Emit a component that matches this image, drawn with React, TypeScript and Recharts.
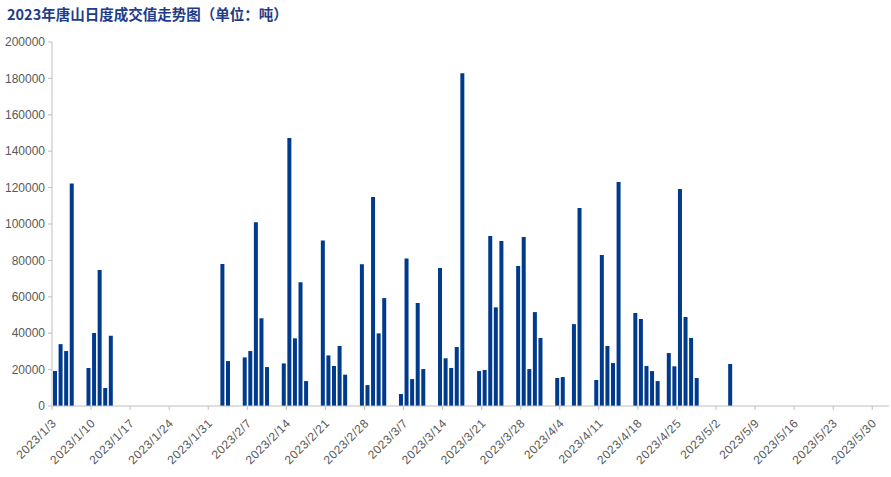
import React from "react";
import { BarChart, Bar, XAxis, YAxis } from "recharts";

const tradeDates = [
  "2023/1/3", "2023/1/4", "2023/1/5", "2023/1/6", "2023/1/9", "2023/1/10", "2023/1/11", "2023/1/12", "2023/1/13",
  "2023/2/2", "2023/2/3", "2023/2/6", "2023/2/7", "2023/2/8", "2023/2/9", "2023/2/10",
  "2023/2/13", "2023/2/14", "2023/2/15", "2023/2/16", "2023/2/17",
  "2023/2/20", "2023/2/21", "2023/2/22", "2023/2/23", "2023/2/24",
  "2023/2/27", "2023/2/28", "2023/3/1", "2023/3/2", "2023/3/3",
  "2023/3/6", "2023/3/7", "2023/3/8", "2023/3/9", "2023/3/10",
  "2023/3/13", "2023/3/14", "2023/3/15", "2023/3/16", "2023/3/17",
  "2023/3/20", "2023/3/21", "2023/3/22", "2023/3/23", "2023/3/24",
  "2023/3/27", "2023/3/28", "2023/3/29", "2023/3/30", "2023/3/31",
  "2023/4/3", "2023/4/4", "2023/4/6", "2023/4/7",
  "2023/4/10", "2023/4/11", "2023/4/12", "2023/4/13", "2023/4/14",
  "2023/4/17", "2023/4/18", "2023/4/19", "2023/4/20", "2023/4/21",
  "2023/4/23", "2023/4/24", "2023/4/25", "2023/4/26", "2023/4/27", "2023/4/28",
  "2023/5/4",
];

// 成交量（吨）
const volumes = [
  19200, 34000, 30200, 122300, 20900, 40100, 74700, 9900, 38600,
  78000, 24700, 26700, 30200, 100900, 48200, 21400,
  23400, 147200, 37200, 68000, 13700,
  91000, 27800, 22000, 33000, 17200,
  77900, 11500, 114900, 39900, 59300,
  6600, 81100, 14800, 56600, 20300,
  75800, 26200, 20900, 32400, 182800,
  19200, 19800, 93400, 54200, 90700,
  76900, 92900, 20300, 51600, 37400,
  15400, 15900, 45000, 108800,
  14300, 83000, 33000, 23600, 123100,
  51100, 47800, 22000, 19200, 13700,
  29100, 21800, 119200, 48900, 37400, 15400,
  23100,
];

const tickLabels = [
  "2023/1/3", "2023/1/10", "2023/1/17", "2023/1/24", "2023/1/31", "2023/2/7", "2023/2/14",
  "2023/2/21", "2023/2/28", "2023/3/7", "2023/3/14", "2023/3/21", "2023/3/28", "2023/4/4",
  "2023/4/11", "2023/4/18", "2023/4/25", "2023/5/2", "2023/5/9", "2023/5/16", "2023/5/23", "2023/5/30",
];

const yTicks = [0, 20000, 40000, 60000, 80000, 100000, 120000, 140000, 160000, 180000, 200000];

const START = Date.UTC(2023, 0, 3);
const dayOffset = (s: string) => {
  const [y, m, d] = s.split("/").map(Number);
  return Math.round((Date.UTC(y, m - 1, d) - START) / 86400000);
};

const data = tradeDates.map((d, i) => ({ day: dayOffset(d) + 0.5, date: d, value: volumes[i] }));
const xTicks = tickLabels.map(dayOffset);
const labelByDay: Record<number, string> = {};
tickLabels.forEach((t) => (labelByDay[dayOffset(t)] = t));

const AXIS = "#bfbfbf";
const TEXT = "#595959";
const FONT = "'Liberation Sans', Arial, sans-serif";

const XTick = (props: any) => {
  const { x, y, payload } = props;
  const ax = x + 5;
  const ay = y + 12;
  return (
    <text
      x={ax}
      y={ay}
      transform={`rotate(-45, ${ax}, ${ay})`}
      textAnchor="end"
      fontSize={12}
      fill={TEXT}
      fontFamily={FONT}
      letterSpacing={0.5}
    >
      {labelByDay[payload.value]}
    </text>
  );
};

export default function App() {
  return (
    <div style={{ position: "absolute", left: 0, top: 0, width: 891, height: 477, background: "#fff" }}>
      <div
        style={{
          position: "absolute",
          left: 7,
          top: 3,
          fontFamily: "'Noto Sans CJK SC', sans-serif",
          fontWeight: 700,
          fontSize: 14.5,
          color: "#1f3c88",
          whiteSpace: "nowrap",
        }}
      >
        2023年唐山日度成交值走势图（单位：吨）
      </div>
      <BarChart
        width={891}
        height={477}
        data={data}
        margin={{ top: 42, right: 2, bottom: 11, left: 0 }}
      >
        <XAxis
          dataKey="day"
          type="number"
          domain={[0, 150]}
          ticks={xTicks}
          interval={0}
          allowDecimals={false}
          stroke={AXIS}
          tickSize={4}
          tick={<XTick />}
          height={60}
        />
        <YAxis
          type="number"
          domain={[0, 200000]}
          ticks={yTicks}
          interval={0}
          width={52}
          stroke={AXIS}
          tickSize={4}
          tickMargin={3}
          tick={{ fill: TEXT, fontSize: 12, fontFamily: FONT }}
        />
        <Bar dataKey="value" fill="#003a8c" barSize={4} isAnimationActive={false} />
      </BarChart>
    </div>
  );
}
